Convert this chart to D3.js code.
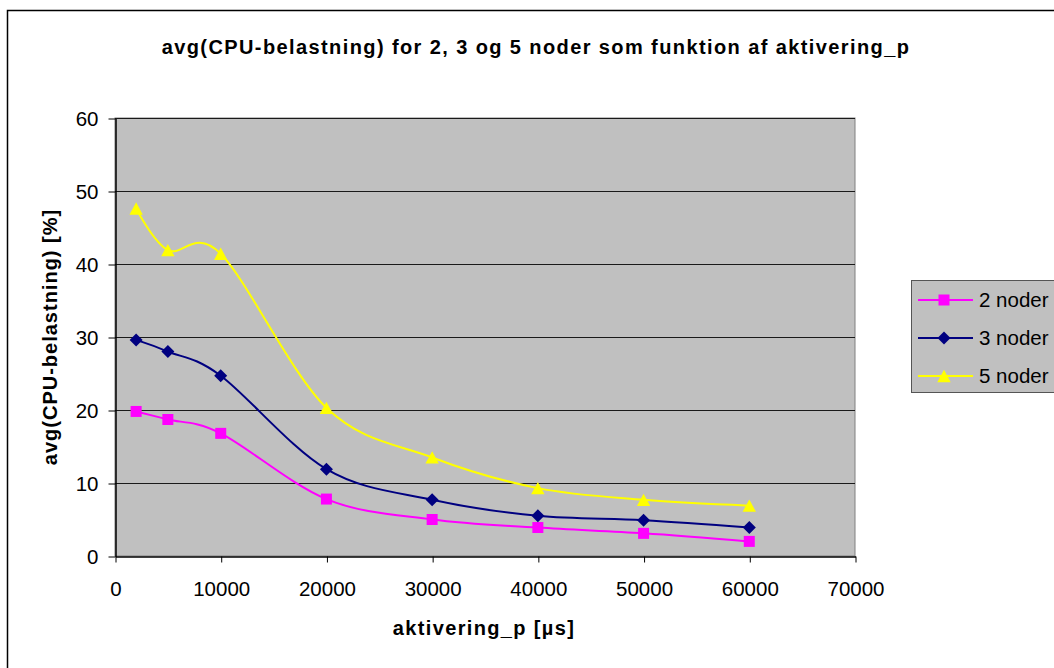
<!DOCTYPE html>
<html>
<head>
<meta charset="utf-8">
<script src="https://cdn.jsdelivr.net/npm/d3@7"></script>
<style>
  body { margin: 0; background: #fff; }
  text { font-family: "Liberation Sans", Arial, sans-serif; }
</style>
</head>
<body>
<div id="chart"></div>
<script>
const xValues = [2000, 5000, 10000, 20000, 30000, 40000, 50000, 60000];
const noder2 = [19.8, 18.7, 16.8, 7.8, 5.0, 3.9, 3.1, 2.0];
const noder3 = [29.6, 28.0, 24.7, 11.9, 7.7, 5.5, 4.9, 3.9];
const noder5 = [47.6, 41.9, 41.4, 20.3, 13.5, 9.3, 7.7, 6.9];
const seriesNames = ["2 noder", "3 noder", "5 noder"];
const xTicks = [0, 10000, 20000, 30000, 40000, 50000, 60000, 70000];
const yTicks = [0, 10, 20, 30, 40, 50, 60];

const width = 1054, height = 668;
const plot = {left: 115, right: 855, top: 118, bottom: 556};

const series = [
  {name: seriesNames[0], values: noder2, color: "#ff00ff", marker: "square"},
  {name: seriesNames[1], values: noder3, color: "#000080", marker: "diamond"},
  {name: seriesNames[2], values: noder5, color: "#ffff00", marker: "triangle"}
];

const svg = d3.select("#chart").append("svg")
  .attr("width", width)
  .attr("height", height);

// chart outer frame
svg.append("rect")
  .attr("x", 7.5).attr("y", 10.5)
  .attr("width", 1100).attr("height", 700)
  .attr("fill", "#fff").attr("stroke", "#000").attr("stroke-width", 1.5);

const x = d3.scaleLinear().domain([0, 70000]).range([plot.left, plot.right]);
const y = d3.scaleLinear().domain([0, 60]).range([plot.bottom, plot.top]);

// plot area
svg.append("rect")
  .attr("x", plot.left).attr("y", plot.top)
  .attr("width", plot.right - plot.left).attr("height", plot.bottom - plot.top)
  .attr("fill", "#c0c0c0").attr("stroke", "#808080").attr("stroke-width", 1);

// gridlines
svg.append("g")
  .selectAll("line")
  .data(yTicks.filter(d => d > 0))
  .join("line")
  .attr("x1", plot.left).attr("x2", plot.right)
  .attr("y1", d => Math.round(y(d)) + 0.5).attr("y2", d => Math.round(y(d)) + 0.5)
  .attr("stroke", "#1a1a1a").attr("stroke-width", 1);

// axes
const yAxis = svg.append("g")
  .attr("transform", `translate(${plot.left + 0.5},0.5)`)
  .call(d3.axisLeft(y).tickValues(yTicks).tickSize(7).tickSizeOuter(0).tickPadding(10));
const xAxis = svg.append("g")
  .attr("transform", `translate(0.5,${plot.bottom + 0.5})`)
  .call(d3.axisBottom(x).tickValues(xTicks).tickSize(6).tickSizeOuter(0).tickFormat(d3.format("d")));

[yAxis, xAxis].forEach(g => {
  g.selectAll("text").attr("font-size", 20.5).attr("fill", "#000")
    .attr("font-family", "'Liberation Sans', Arial, sans-serif");
  g.selectAll("line").attr("stroke", "#000");
  g.select(".domain").attr("stroke", "#000").attr("stroke-width", 1.5);
});
xAxis.selectAll(".tick text").attr("y", 39).attr("dy", null);

// lines
const line = d3.line()
  .x((d, i) => x(xValues[i]))
  .y(d => y(d))
  .curve(d3.curveCardinal.tension(0));

svg.append("g")
  .selectAll("path")
  .data(series)
  .join("path")
  .attr("d", d => line(d.values))
  .attr("fill", "none")
  .attr("stroke", d => d.color)
  .attr("stroke-width", 2);

// Excel-style markers
const excelTriangle = {
  draw(ctx, size) {
    const w = Math.sqrt(size) * 1.1, h = w * 0.92;
    ctx.moveTo(0, -h / 2);
    ctx.lineTo(w / 2, h / 2);
    ctx.lineTo(-w / 2, h / 2);
    ctx.closePath();
  }
};
const excelDiamond = {
  draw(ctx, size) {
    const r = Math.sqrt(size) / 2;
    ctx.moveTo(0, -r);
    ctx.lineTo(r, 0);
    ctx.lineTo(0, r);
    ctx.lineTo(-r, 0);
    ctx.closePath();
  }
};
const markerPath = {
  square: d3.symbol(d3.symbolSquare, 121),
  diamond: d3.symbol(excelDiamond, 169),
  triangle: d3.symbol(excelTriangle, 148)
};

series.forEach(s => {
  svg.append("g")
    .selectAll("path")
    .data(s.values)
    .join("path")
    .attr("transform", (d, i) => `translate(${x(xValues[i])},${y(d)})`)
    .attr("d", markerPath[s.marker])
    .attr("fill", s.color);
});

// title
svg.append("text")
  .attr("x", 536).attr("y", 54)
  .attr("text-anchor", "middle")
  .attr("font-size", 20).attr("font-weight", "bold")
  .attr("letter-spacing", 1.4)
  .text("avg(CPU-belastning) for 2, 3 og 5 noder som funktion af aktivering_p");

// axis titles
svg.append("text")
  .attr("x", 484).attr("y", 635)
  .attr("text-anchor", "middle")
  .attr("font-size", 20).attr("font-weight", "bold")
  .attr("letter-spacing", 1.35)
  .text("aktivering_p [µs]");

svg.append("text")
  .attr("transform", `translate(57,337) rotate(-90)`)
  .attr("text-anchor", "middle")
  .attr("font-size", 20).attr("font-weight", "bold")
  .attr("letter-spacing", 1.0)
  .text("avg(CPU-belastning) [%]");

// legend
const legend = svg.append("g");
legend.append("rect")
  .attr("x", 911.5).attr("y", 280.5)
  .attr("width", 160).attr("height", 112)
  .attr("fill", "#c0c0c0").attr("stroke", "#555").attr("stroke-width", 1);

const legendItem = legend.selectAll("g.item")
  .data(series)
  .join("g")
  .attr("class", "item")
  .attr("transform", (d, i) => `translate(0,${300 + i * 38})`);

legendItem.append("line")
  .attr("x1", 918).attr("x2", 973)
  .attr("y1", 0).attr("y2", 0)
  .attr("stroke", d => d.color).attr("stroke-width", 2);

legendItem.append("path")
  .attr("transform", "translate(944,0)")
  .attr("d", d => markerPath[d.marker]())
  .attr("fill", d => d.color);

legendItem.append("text")
  .attr("x", 979).attr("y", 7)
  .attr("font-size", 20.5)
  .text(d => d.name);
</script>
</body>
</html>
